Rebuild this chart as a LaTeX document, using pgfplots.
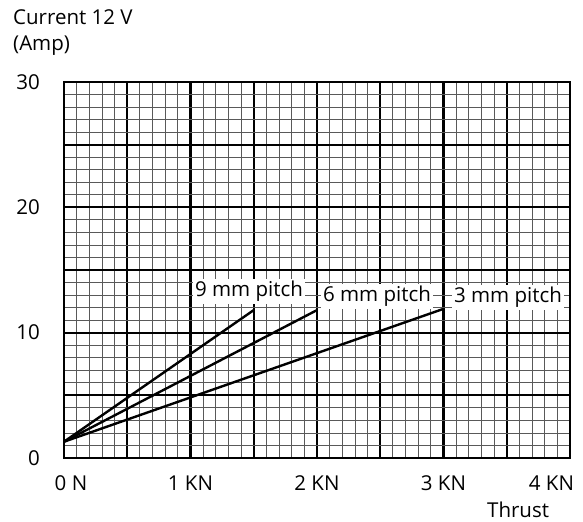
\documentclass[border=0pt]{standalone}
\usepackage{pgfplots}
\pgfplotsset{compat=1.18}
\usepackage{fontspec}
\setmainfont{Open Sans}
\begin{document}
\begin{tikzpicture}[font=\fontsize{20.5bp}{24bp}\selectfont]
\path[use as bounding box] (-64bp,-64bp) rectangle (519bp,458bp);
\begin{axis}[
  at={(0,0)}, anchor=south west,
  scale only axis, width=506bp, height=376bp,
  xmin=0, xmax=4, ymin=0, ymax=30,
  xtick={0,0.5,1,1.5,2,2.5,3,3.5,4},
  xticklabels={\hspace*{14bp}0 N,,1 KN,,2 KN,,3 KN,,\makebox[8bp][r]{4 KN}},
  ytick={0,5,10,15,20,25,30},
  yticklabels={0,,10,,20,,30},
  minor x tick num=4, minor y tick num=4,
  grid=both,
  major grid style={black, line width=2.1bp},
  minor grid style={black!65, line width=0.8bp},
  major tick length=0pt, minor tick length=0pt,
  axis line style={black, line width=2bp},
  /pgf/number format/assume math mode=true,
  xticklabel style={anchor=base, inner sep=0pt, yshift=-32bp},
  yticklabel style={anchor=east, inner sep=0pt, xshift=-24bp},
  clip=false,
]
\addplot[black, line width=2.4bp] coordinates {(0,1.3) (1.5,11.8)};
\addplot[black, line width=2.4bp] coordinates {(0,1.3) (2.0,11.8)};
\addplot[black, line width=2.4bp] coordinates {(0,1.3) (3.0,11.9)};
\node[fill=white, inner sep=2.5bp, anchor=base] at (axis cs:1.462,12.85) {9 mm pitch};
\node[fill=white, inner sep=2.5bp, anchor=base] at (axis cs:2.474,12.45) {6 mm pitch};
\node[fill=white, inner sep=2.5bp, anchor=base] at (axis cs:3.51,12.37) {3 mm pitch};
\end{axis}
\node[anchor=base west, inner sep=0pt] at (-51bp,433bp) {Current 12 V};
\node[anchor=base west, inner sep=0pt] at (-51bp,407bp) {(Amp)};
\node[anchor=base west, inner sep=0pt] at (423bp,-59bp) {Thrust};
\end{tikzpicture}
\end{document}
